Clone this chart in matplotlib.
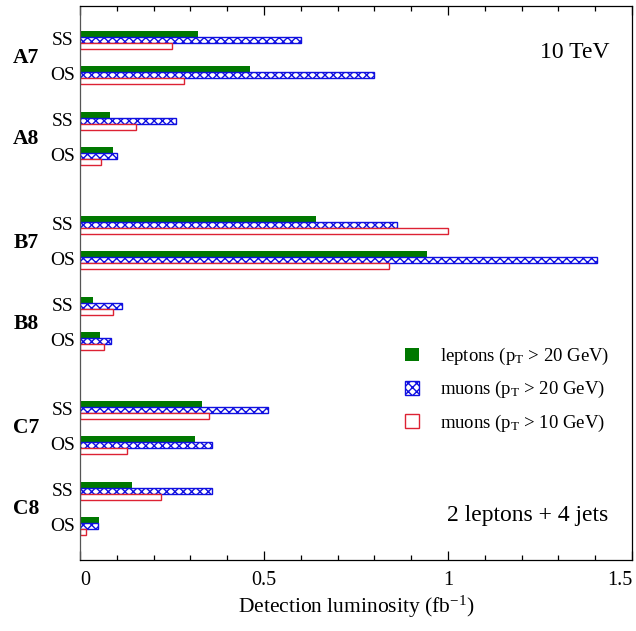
import matplotlib
matplotlib.use('Agg')
import matplotlib.pyplot as plt
from matplotlib.ticker import MultipleLocator
from matplotlib.transforms import blended_transform_factory

plt.rcParams['font.family'] = ['Liberation Serif', 'DejaVu Serif']
plt.rcParams['mathtext.fontset'] = 'custom'
plt.rcParams['mathtext.rm'] = 'Liberation Serif'
plt.rcParams['mathtext.it'] = 'Liberation Serif:italic'
plt.rcParams['mathtext.bf'] = 'Liberation Serif:bold'
plt.rcParams['hatch.linewidth'] = 1.0

# ---- data ----
signatures = ['A7', 'A8', 'B7', 'B8', 'C7', 'C8']
charges = ['SS', 'OS']
# order: A7 SS, A7 OS, A8 SS, A8 OS, B7 SS, B7 OS, ...
leptons_pt20 = [0.322, 0.461, 0.081, 0.089, 0.641, 0.943, 0.035, 0.054, 0.332, 0.312, 0.142, 0.051]
muons_pt20 = [0.600, 0.800, 0.260, 0.100, 0.862, 1.405, 0.113, 0.085, 0.512, 0.360, 0.360, 0.050]
muons_pt10 = [0.251, 0.282, 0.151, 0.057, 1.000, 0.841, 0.090, 0.065, 0.351, 0.128, 0.220, 0.017]
xticks = [0, 0.5, 1, 1.5]
xtick_labels = ['0', '0.5', '1', '1.5']

# ---- layout ----
green = '#007800'
blue = '#1010e0'
red = '#dd2233'
bar_h = 6

rows = []
for i, sig in enumerate(signatures):
    letter = i // 2
    model = i % 2
    for k, ch in enumerate(charges):
        rows.append(34 + 185 * letter + 81 * model + 35 * k)

fig = plt.figure(figsize=(6.36, 6.31), dpi=100)
ax = fig.add_axes([80 / 636, 1 - 560 / 631, (632 - 80) / 636, (560 - 5.5) / 631])

y_green = [r - bar_h for r in rows]
y_red = [r + bar_h for r in rows]
b1 = ax.barh(y_green, leptons_pt20, height=bar_h, color=green, linewidth=0,
             label='leptons (p$_{\\mathrm{T}}$ > 20 GeV)')
b2 = ax.barh(rows, muons_pt20, height=bar_h, facecolor='white', edgecolor=blue,
             hatch='xxxx', linewidth=1.0, label='muons (p$_{\\mathrm{T}}$ > 20 GeV)')
b3 = ax.barh(y_red, muons_pt10, height=bar_h, facecolor='white', edgecolor=red,
             linewidth=1.0, label='muons (p$_{\\mathrm{T}}$ > 10 GeV)')

ax.set_xlim(0, 1.5)
ax.set_ylim(554.5, 0)
ax.set_yticks([])
ax.set_xticks(xticks)
ax.set_xticklabels(xtick_labels)
tl = ax.get_xticklabels()
tl[0].set_horizontalalignment('left')
tl[-1].set_horizontalalignment('right')
ax.xaxis.set_minor_locator(MultipleLocator(0.1))
ax.tick_params(axis='x', which='both', direction='in', top=True, labelsize=14.5, pad=8)
ax.tick_params(axis='x', which='major', length=6.7, width=0.9)
ax.tick_params(axis='x', which='minor', length=3.6, width=0.9)
for s in ax.spines.values():
    s.set_linewidth(0.9)
ax.spines['left'].set_color('#555555')
ax.set_xlabel('Detection luminosity (fb$^{-1}$)', fontsize=15.5, labelpad=3)

trans = blended_transform_factory(fig.transFigure, ax.transData)
for i, sig in enumerate(signatures):
    ss, os_ = rows[2 * i], rows[2 * i + 1]
    ax.text(26 / 636, (ss + os_) / 2 + 1, sig, transform=trans, fontsize=15.5,
            fontweight='bold', ha='center', va='center')
    for k, ch in enumerate(charges):
        ax.text(63 / 636, rows[2 * i + k] + 1, ch, transform=trans, fontsize=14,
                ha='center', va='center')

ax.text(0.960, 0.916, '10 TeV', transform=ax.transAxes, fontsize=17, ha='right', va='center')
ax.text(0.9565, 0.081, '2 leptons + 4 jets', transform=ax.transAxes, fontsize=17,
        ha='right', va='center')

ax.legend(handles=[b1, b2, b3], loc='upper left',
          bbox_to_anchor=(405 / 636, 1 - 346 / 631), bbox_transform=fig.transFigure,
          fontsize=13.5, frameon=False, handlelength=0.75, handleheight=0.75,
          handletextpad=1.1, labelspacing=0.65, borderpad=0, borderaxespad=0)

fig.savefig('out.png', dpi=100)
